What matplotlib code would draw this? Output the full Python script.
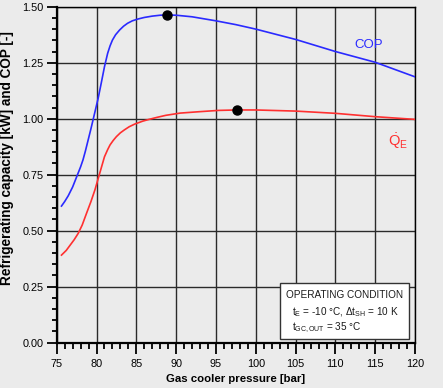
import numpy as np
import matplotlib.pyplot as plt
from matplotlib.ticker import MultipleLocator
from matplotlib.patches import Rectangle

plt.rcParams['font.family'] = ['Liberation Sans', 'DejaVu Sans']
plt.rcParams['mathtext.fontset'] = 'custom'
plt.rcParams['mathtext.rm'] = 'Liberation Sans'
plt.rcParams['mathtext.it'] = 'Liberation Sans'
plt.rcParams['mathtext.bf'] = 'Liberation Sans:bold'

# COP curve
p_cop = [75.6, 76.0, 76.45, 77.0, 77.5, 78.0, 78.3, 78.6, 78.95, 79.3, 79.7, 80.2,
         80.6, 81.0, 81.4, 81.7, 82.0, 82.4, 82.9, 83.4, 83.9, 84.5, 85.2, 86.0,
         87.0, 88.0, 88.8, 90.0, 92.0, 95.0, 97.5, 100.0, 105.0, 110.0, 115.0, 120.0]
cop = [0.610, 0.630, 0.656, 0.695, 0.740, 0.785, 0.816, 0.855, 0.905, 0.955, 1.015, 1.090,
       1.160, 1.232, 1.292, 1.325, 1.351, 1.375, 1.396, 1.413, 1.426, 1.437, 1.445, 1.452,
       1.458, 1.462, 1.463, 1.462, 1.455, 1.437, 1.420, 1.400, 1.354, 1.300, 1.252, 1.187]

# refrigerating capacity curve
p_qe = [75.6, 76.2, 76.7, 77.2, 77.7, 78.2, 78.75, 79.3, 79.8, 80.4, 81.0, 81.4,
        81.7, 82.1, 82.5, 83.0, 83.5, 84.1, 84.8, 85.8, 86.6, 87.6, 88.7, 90.5,
        92.8, 95.3, 97.6, 100.0, 105.0, 110.0, 115.0, 120.0]
qe = [0.391, 0.412, 0.436, 0.460, 0.488, 0.525, 0.578, 0.630, 0.682, 0.756, 0.830, 0.862,
      0.883, 0.903, 0.920, 0.937, 0.950, 0.964, 0.976, 0.989, 0.997, 1.006, 1.015, 1.025,
      1.031, 1.037, 1.039, 1.039, 1.034, 1.024, 1.009, 0.997]

# optimum points
opt_p = [88.8, 97.6]
opt_v = [1.463, 1.039]

bg = '#ebebeb'
fig = plt.figure(figsize=(4.43, 3.88), dpi=100, facecolor=bg)
ax = fig.add_axes([0.128, 0.1168, 0.8087, 0.8659], facecolor=bg)

ax.plot(p_cop, cop, color='#2a2aff', lw=1.2, zorder=3)
ax.plot(p_qe, qe, color='#ff3030', lw=1.2, zorder=3)
ax.plot(opt_p, opt_v, 'o', color='black', ms=6.5, zorder=4, ls='none')

ax.set_xlim(75, 120)
ax.set_ylim(0, 1.5)
ax.xaxis.set_major_locator(MultipleLocator(5))
ax.xaxis.set_minor_locator(MultipleLocator(1))
ax.yaxis.set_major_locator(MultipleLocator(0.25))
ax.yaxis.set_minor_locator(MultipleLocator(0.05))
ax.yaxis.set_major_formatter(plt.FuncFormatter(lambda v, _: f'{v:.2f}'))

ax.grid(True, which='major', color='#2a2a2a', lw=1.0)
ax.set_axisbelow(True)
for s in ['left', 'bottom']:
    ax.spines[s].set_linewidth(1.6)
for s in ['top', 'right']:
    ax.spines[s].set_linewidth(1.0)

ax.tick_params(axis='y', which='major', direction='out', length=7, width=1.3, pad=2.5,
               labelsize=7.8, colors='black')
ax.tick_params(axis='y', which='minor', direction='out', length=3.6, width=1.3)
ax.tick_params(axis='x', which='major', direction='out', length=8, width=1.3, pad=4,
               labelsize=7.8)
ax.tick_params(axis='x', which='minor', direction='out', length=4, width=1.3)

ax.set_xlabel('Gas cooler pressure [bar]', fontsize=8.2, fontweight='bold', labelpad=3.5)
ax.set_ylabel('Refrigerating capacity [kW] and COP [-]', fontsize=9.8,
              fontweight='bold')
ax.yaxis.set_label_coords(-0.118, 0.55)

ax.text(114.2, 1.33, 'COP', color='#2a2aff', fontsize=9.5, ha='center', va='center')
ax.text(117.9, 0.90, r'$\dot{\mathrm{Q}}_\mathrm{E}$', color='#ff3030', fontsize=10.5,
        ha='center', va='center')

# operating condition box
ax.add_patch(Rectangle((103.1, 0.015), 16.2, 0.25, facecolor='white',
                       edgecolor='#333333', lw=1.0, zorder=5))
ax.text(111.2, 0.215, 'OPERATING CONDITION', fontsize=7.2, color='#1a1a1a',
        ha='center', va='center', zorder=6)
ax.text(104.6, 0.137, r'$\mathrm{t_E}$ = -10 °C, Δ$\mathrm{t_{SH}}$ = 10 K', fontsize=7.2,
        color='#1a1a1a', ha='left', va='center', zorder=6)
ax.text(104.6, 0.068, r'$\mathrm{t_{GC,OUT}}$ = 35 °C', fontsize=7.2,
        color='#1a1a1a', ha='left', va='center', zorder=6)

fig.savefig('out.png', dpi=100, facecolor=bg)
